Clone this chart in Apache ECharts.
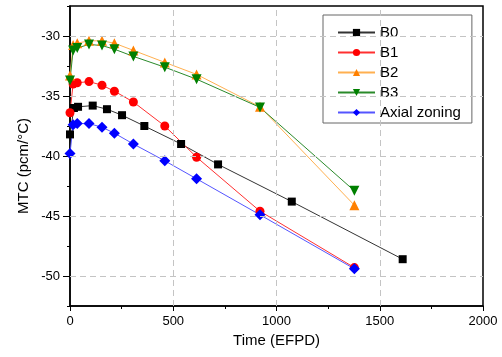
<!DOCTYPE html>
<html>
<head>
<meta charset="utf-8">
<script src="https://cdn.jsdelivr.net/npm/echarts@6/dist/echarts.min.js"></script>
<style>html,body{margin:0;padding:0;background:#fff;}#c{width:502px;height:357px;}</style>
</head>
<body>
<div id="c"></div>
<script>
// ---- data ----
const seriesNames = ['B0', 'B1', 'B2', 'B3', 'Axial zoning'];
const b0X = [0, 19, 39, 110, 179, 252, 360, 538, 717, 1074, 1611];
const b0Y = [-38.2, -36.0, -35.9, -35.8, -36.1, -36.6, -37.5, -39.0, -40.7, -43.8, -48.6];
const bX = [0, 15, 35, 92, 155, 215, 307, 459, 613, 920, 1377];
const b1Y = [-36.4, -34.0, -33.9, -33.8, -34.1, -34.6, -35.5, -37.5, -40.1, -44.6, -49.3];
const b2Y = [-33.3, -30.75, -30.6, -30.4, -30.4, -30.6, -31.2, -32.2, -33.2, -35.9, -44.1];
const b3Y = [-33.7, -31.2, -31.0, -30.7, -30.8, -31.1, -31.7, -32.6, -33.6, -35.95, -42.9];
const axY = [-39.8, -37.4, -37.3, -37.3, -37.6, -38.1, -39.0, -40.4, -41.9, -44.9, -49.4];
const yTickLabels = ['-50', '-45', '-40', '-35', '-30'];
const yGridValues = [-50, -45, -40, -35, -30];
const xGridValues = [500, 1000, 1500];

const FONT = "'Liberation Sans', Arial, sans-serif";
const pairs = (xs, ys) => xs.map((x, i) => [x, ys[i]]);
const downTri = 'path://M0,0 L10,0 L5,9 Z';

function mk(name, data, symbol, size, markerColor, lineColor) {
  return {
    name, type: 'line', data, symbol, symbolSize: size,
    itemStyle: { color: markerColor },
    lineStyle: { color: lineColor, width: 1 },
    z: 3, animation: false
  };
}

const chart = echarts.init(document.getElementById('c'), null, { renderer: 'canvas' });
chart.setOption({
  animation: false,
  backgroundColor: '#fff',
  grid: { left: 70, right: 19, top: 6, bottom: 51, show: true, borderColor: '#000', borderWidth: 1.5, backgroundColor: 'transparent' },
  legend: {
    data: seriesNames,
    orient: 'vertical', left: 323, top: 15,
    padding: [10, 11, 3, 14],
    itemWidth: 37, itemHeight: 9, itemGap: 5,
    backgroundColor: '#fff', borderColor: '#666', borderWidth: 1, borderRadius: 0,
    textStyle: { fontSize: 15, color: '#000', fontFamily: FONT }
  },
  xAxis: {
    type: 'value', min: 0, max: 2000, interval: 500,
    axisLine: { lineStyle: { color: '#000', width: 1.5 } },
    axisTick: { length: 5, lineStyle: { color: '#000' } },
    minorTick: { show: true, splitNumber: 2, length: 3, lineStyle: { color: '#000' } },
    axisLabel: { color: '#000', fontSize: 13, fontFamily: FONT, margin: 9, formatter: v => String(v) },
    splitLine: { show: false },
    name: 'Time (EFPD)', nameLocation: 'middle', nameGap: 26,
    nameTextStyle: { fontSize: 15, color: '#000', fontFamily: FONT }
  },
  yAxis: [
    {
      type: 'value', min: -52.5, max: -27.5, interval: 2.5,
      axisLine: { show: true, lineStyle: { color: '#000', width: 1.5 } },
      axisTick: { show: true, length: 3, lineStyle: { color: '#000' } },
      axisLabel: { show: false },
      splitLine: { show: false }
    },
    {
      type: 'category', data: yTickLabels, boundaryGap: true, position: 'left',
      axisLine: { show: false },
      axisTick: { show: true, alignWithLabel: true, length: 7, lineStyle: { color: '#000' } },
      axisLabel: { color: '#000', fontSize: 13, fontFamily: FONT, margin: 10 },
      splitLine: { show: false }
    }
  ],
  graphic: [{
    type: 'text', x: 24, y: 166, rotation: Math.PI / 2,
    style: { text: 'MTC (pcm/°C)', font: "15px 'Liberation Sans', Arial, sans-serif", fill: '#000', textAlign: 'center', textVerticalAlign: 'middle' }
  }],
  series: [
    {
      name: 'grid', type: 'line', data: [], z: 1, silent: true,
      markLine: {
        silent: true, symbol: ['none', 'none'], animation: false,
        label: { show: false },
        lineStyle: { color: '#c4c4c4', type: [6, 4], width: 1 },
        data: xGridValues.map(v => ({ xAxis: v })).concat(yGridValues.map(v => ({ yAxis: v })))
      }
    },
    mk('B0', pairs(b0X, b0Y), 'rect', 8, '#000000', '#333333'),
    mk('B1', pairs(bX, b1Y), 'circle', 9, '#ff0000', '#ff3030'),
    mk('B2', pairs(bX, b2Y), 'triangle', 10, '#ff8000', '#ffb050'),
    mk('B3', pairs(bX, b3Y), downTri, 10, '#008000', '#2a8a2a'),
    mk('Axial zoning', pairs(bX, axY), 'diamond', 11, '#0000ff', '#5555ff')
  ]
});
</script>
</body>
</html>
